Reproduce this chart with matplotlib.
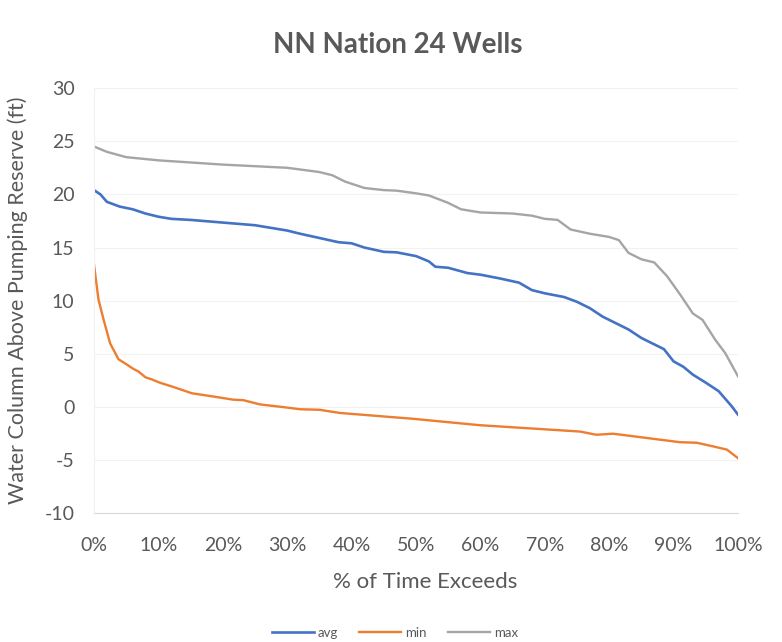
import matplotlib
matplotlib.use("Agg")
import matplotlib.pyplot as plt
from matplotlib.ticker import FuncFormatter, MultipleLocator

plt.rcParams['font.family'] = ['Lato', 'DejaVu Sans']

# Exceedance curves (% of time vs water column above pumping reserve, ft)
max_pct = [0, 2, 5, 10, 20, 30, 35, 37, 39, 42, 45, 47, 50, 52, 55, 57, 60, 65, 68,
           70, 72, 74, 77, 80, 81.5, 83, 85, 87, 89, 91, 93, 94.5, 96.5, 98, 100]
max_val = [24.5, 24.0, 23.5, 23.2, 22.8, 22.5, 22.1, 21.8, 21.2, 20.6, 20.4, 20.35, 20.1,
           19.9, 19.2, 18.6, 18.3, 18.2, 18.0, 17.7, 17.6, 16.7, 16.3, 16.0, 15.7, 14.5,
           13.9, 13.6, 12.3, 10.6, 8.8, 8.2, 6.3, 5.1, 2.9]

avg_pct = [0, 1, 2, 4, 6, 8, 10, 12, 15, 20, 25, 28, 30, 32, 35, 38, 40, 42, 45, 47,
           50, 52, 53, 55, 58, 60, 63, 66, 68, 70, 73, 75, 77, 79, 81, 83, 85, 87, 88.5,
           90, 91.5, 93, 95, 97, 99, 100]
avg_val = [20.4, 20.0, 19.3, 18.85, 18.6, 18.2, 17.9, 17.7, 17.6, 17.35, 17.1, 16.8, 16.6,
           16.3, 15.9, 15.5, 15.4, 15.0, 14.6, 14.55, 14.2, 13.7, 13.2, 13.1, 12.6, 12.45,
           12.1, 11.7, 11.0, 10.7, 10.35, 9.9, 9.3, 8.5, 7.9, 7.3, 6.5, 5.9, 5.45, 4.3,
           3.8, 3.05, 2.3, 1.5, 0.1, -0.7]

min_pct = [0, 0.7, 1.5, 2.5, 3.8, 5.1, 6.1, 6.9, 8, 9, 10.2, 12.3, 15.2, 18.5, 21.6,
           23.2, 25.8, 29.4, 32, 35, 38.2, 41.3, 44.4, 47.5, 49.6, 54.7, 59.9, 65.1,
           70.3, 75.5, 78, 80.6, 85.8, 91, 93.6, 96.2, 98.3, 100]
min_val = [13.4, 10.1, 8.2, 6.0, 4.5, 4.0, 3.6, 3.35, 2.8, 2.6, 2.3, 1.9, 1.3, 1.0, 0.7,
           0.65, 0.25, 0.0, -0.2, -0.25, -0.55, -0.7, -0.85, -1.0, -1.1, -1.4, -1.7, -1.9,
           -2.1, -2.3, -2.6, -2.5, -2.9, -3.3, -3.35, -3.7, -4.0, -4.8]

series_names = ['avg', 'min', 'max']
series_colors = ['#4472C4', '#ED7D31', '#A5A5A5']
text_color = '#595959'

fig = plt.figure(figsize=(7.82, 6.42), dpi=100)
ax = fig.add_axes([0.1202, 0.2002, 0.8235, 0.6627])

ax.plot(avg_pct, avg_val, color=series_colors[0], lw=1.9, label=series_names[0])
ax.plot(min_pct, min_val, color=series_colors[1], lw=1.7, label=series_names[1])
ax.plot(max_pct, max_val, color=series_colors[2], lw=1.7, label=series_names[2])

ax.set_xlim(0, 100)
ax.set_ylim(-10, 30)
ax.xaxis.set_major_locator(MultipleLocator(10))
ax.yaxis.set_major_locator(MultipleLocator(5))
ax.xaxis.set_major_formatter(FuncFormatter(lambda v, p: f"{int(round(v))}%"))
ax.yaxis.set_major_formatter(FuncFormatter(lambda v, p: f"{int(round(v))}"))

ax.grid(axis='y', color='#f2f2f2', lw=0.8)
ax.set_axisbelow(True)
for side in ['top', 'right']:
    ax.spines[side].set_visible(False)
ax.spines['left'].set_color('#f0f0f0')
ax.spines['bottom'].set_color('#d9d9d9')
ax.tick_params(axis='both', length=0, labelsize=14, labelcolor=text_color)
ax.tick_params(axis='x', pad=17)
ax.tick_params(axis='y', pad=14)

fig.text(0.509, 0.930, 'NN Nation 24 Wells', fontsize=20, fontweight='bold',
         color=text_color, ha='center', va='center')
ax.set_xlabel('% of Time Exceeds', fontsize=16, color=text_color)
ax.xaxis.set_label_coords(0.514, -0.137)
ax.set_ylabel('Water Column Above Pumping Reserve (ft)', fontsize=15.5, color=text_color)
ax.yaxis.set_label_coords(-0.1025, 0.502)

leg = fig.legend(loc='lower center', bbox_to_anchor=(0.505, -0.014), ncol=3, frameon=False,
                 fontsize=9.5, handlelength=3.2, columnspacing=1.6, handletextpad=0.3)
for t in leg.get_texts():
    t.set_color(text_color)

fig.savefig('out.png', dpi=100, facecolor='white')
